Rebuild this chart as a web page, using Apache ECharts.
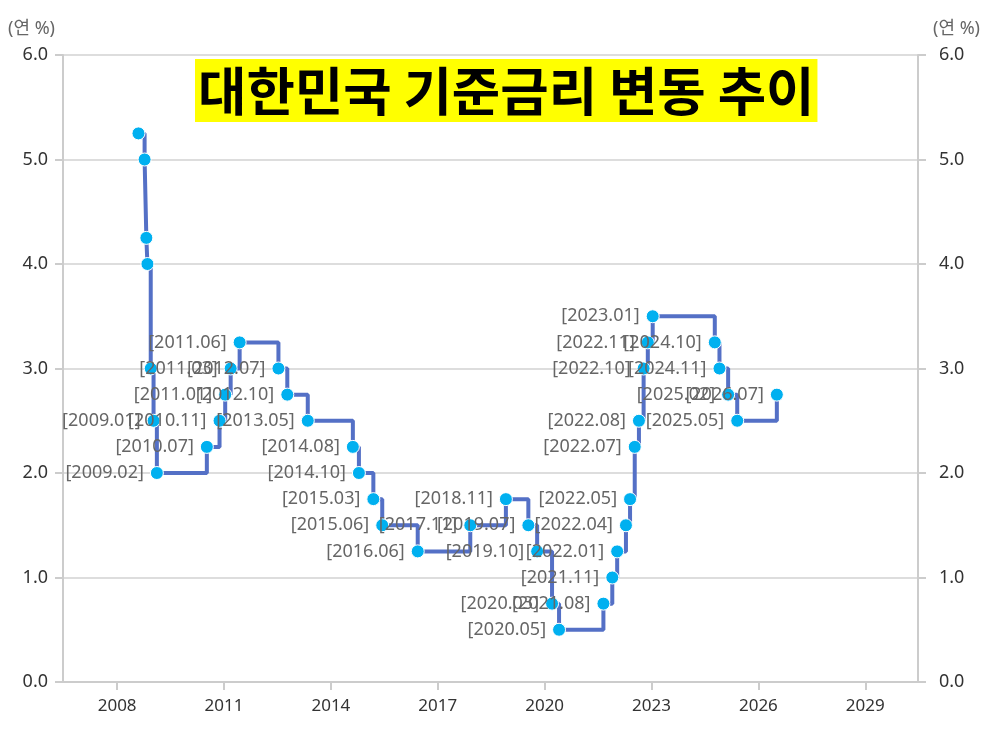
<!DOCTYPE html>
<html>
<head>
<meta charset="utf-8">
<script src="https://cdn.jsdelivr.net/npm/echarts@6/dist/echarts.min.js"></script>
<style>
  html, body { margin: 0; padding: 0; background: #fff; }
  #main { width: 984px; height: 730px; }
</style>
</head>
<body>
<div id="main"></div>
<script>
// 기준금리 변경일 / 금리(연 %)
var changeDates = [
  '2008-08-07', '2008-10-09', '2008-10-27', '2008-11-07', '2008-12-11',
  '2009-01-09', '2009-02-12', '2010-07-09', '2010-11-16', '2011-01-13',
  '2011-03-10', '2011-06-10', '2012-07-12', '2012-10-11', '2013-05-09',
  '2014-08-14', '2014-10-15', '2015-03-12', '2015-06-11', '2016-06-09',
  '2017-11-30', '2018-11-30', '2019-07-18', '2019-10-16', '2020-03-17',
  '2020-05-28', '2021-08-26', '2021-11-25', '2022-01-14', '2022-04-14',
  '2022-05-26', '2022-07-13', '2022-08-25', '2022-10-12', '2022-11-24',
  '2023-01-13', '2024-10-11', '2024-11-28', '2025-02-25', '2025-05-29',
  '2026-07-09'
];
var rates = [
  5.25, 5.00, 4.25, 4.00, 3.00,
  2.50, 2.00, 2.25, 2.50, 2.75,
  3.00, 3.25, 3.00, 2.75, 2.50,
  2.25, 2.00, 1.75, 1.50, 1.25,
  1.50, 1.75, 1.50, 1.25, 0.75,
  0.50, 0.75, 1.00, 1.25, 1.50,
  1.75, 2.25, 2.50, 3.00, 3.25,
  3.50, 3.25, 3.00, 2.75, 2.50,
  2.75
];
var yearTicks = [2008, 2011, 2014, 2017, 2020, 2023, 2026, 2029];
var hiddenLabelCount = 5; // 2008년 변경분은 라벨 없음

function toYear(s) {
  var p = s.split('-');
  var y = +p[0];
  var start = Date.UTC(y, 0, 1), end = Date.UTC(y + 1, 0, 1);
  return y + (Date.UTC(y, +p[1] - 1, +p[2]) - start) / (end - start);
}

var seriesData = changeDates.map(function (d, i) {
  return {
    value: [toYear(d), rates[i]],
    name: '[' + d.slice(0, 7).replace('-', '.') + ']',
    label: { show: i >= hiddenLabelCount }
  };
});

var font = 'Noto Sans, Noto Sans CJK KR, sans-serif';
var chart = echarts.init(document.getElementById('main'));
chart.setOption({
  animation: false,
  textStyle: { fontFamily: font },
  title: {
    text: '대한민국 기준금리 변동 추이',
    left: 195,
    top: 59,
    padding: [3, 3, 2, 3],
    backgroundColor: '#ffff00',
    textStyle: {
      fontFamily: 'Noto Sans CJK KR',
      fontWeight: 'bold',
      fontSize: 52.6,
      lineHeight: 58,
      color: '#000'
    }
  },
  grid: { left: 63, right: 66, top: 55, bottom: 48 },
  xAxis: {
    type: 'value',
    min: 2006.48,
    max: 2030.48,
    splitLine: { show: false },
    axisLine: { lineStyle: { color: '#ccc', width: 2 } },
    axisTick: { customValues: yearTicks, length: 8, lineStyle: { color: '#ccc', width: 2 } },
    axisLabel: {
      customValues: yearTicks,
      margin: 16,
      fontSize: 17,
      color: '#333',
      formatter: function (v) { return String(v); }
    }
  },
  yAxis: [{
    type: 'value',
    position: 'left',
    min: 0, max: 6, interval: 1,
    name: '(연 %)',
    nameGap: 17,
    nameTextStyle: { color: '#666', fontSize: 18, align: 'right', padding: [0, 8, 0, 0] },
    axisLine: { show: true, lineStyle: { color: '#ccc', width: 2 } },
    axisTick: { show: true, length: 8, lineStyle: { color: '#ccc', width: 2 } },
    axisLabel: { margin: 15, fontSize: 18, color: '#333', formatter: function (v) { return v.toFixed(1); } },
    splitLine: { lineStyle: { color: '#ddd', width: 2 } }
  }, {
    type: 'value',
    position: 'right',
    min: 0, max: 6, interval: 1,
    name: '(연 %)',
    nameGap: 17,
    nameTextStyle: { color: '#666', fontSize: 18, align: 'left', padding: [0, 0, 0, 15] },
    axisLine: { show: true, lineStyle: { color: '#ccc', width: 2 } },
    axisTick: { show: true, length: 8, lineStyle: { color: '#ccc', width: 2 } },
    axisLabel: { margin: 21, fontSize: 18, color: '#333', formatter: function (v) { return v.toFixed(1); } },
    splitLine: { show: false }
  }],
  series: [{
    type: 'line',
    step: 'end',
    yAxisIndex: 0,
    data: seriesData,
    symbol: 'circle',
    symbolSize: 13,
    lineStyle: { color: '#5470c6', width: 4 },
    itemStyle: { color: '#00b0f0', borderColor: '#fff', borderWidth: 1 },
    label: {
      position: 'left',
      distance: 6,
      fontSize: 18,
      color: '#666',
      formatter: function (p) { return p.name; }
    }
  }]
});
</script>
</body>
</html>
